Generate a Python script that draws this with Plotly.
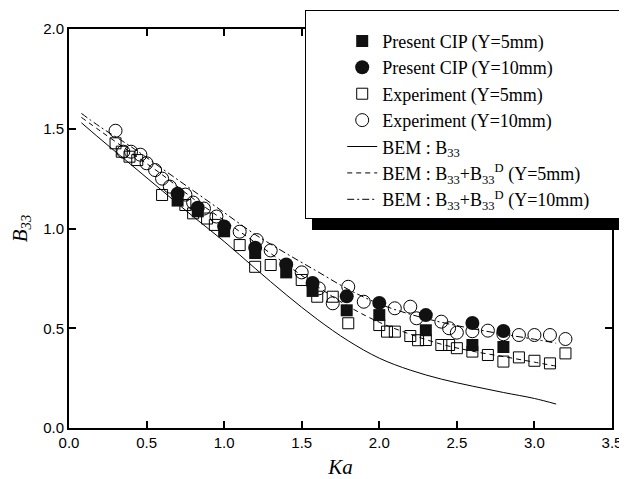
import plotly.graph_objects as go

# ---------------- data ----------------
cip5_x = [0.70, 0.83, 1.00, 1.20, 1.40, 1.57, 1.79, 2.00, 2.30, 2.60, 2.80]
cip5_y = [1.140, 1.086, 0.986, 0.877, 0.780, 0.687, 0.590, 0.566, 0.490, 0.416, 0.406]

cip10_x = [0.70, 0.83, 1.00, 1.20, 1.40, 1.57, 1.79, 2.00, 2.30, 2.60, 2.80]
cip10_y = [1.174, 1.104, 1.010, 0.904, 0.820, 0.727, 0.660, 0.627, 0.566, 0.526, 0.486]

exp5_x = [0.30, 0.34, 0.39, 0.44, 0.60, 0.75, 0.80, 0.89, 0.94, 1.10, 1.20, 1.30,
          1.50, 1.60, 1.70, 1.80, 2.00, 2.05, 2.10, 2.20, 2.25, 2.30, 2.40, 2.45,
          2.50, 2.60, 2.70, 2.80, 2.90, 3.00, 3.10, 3.20]
exp5_y = [1.427, 1.385, 1.360, 1.343, 1.168, 1.118, 1.076, 1.050, 1.018, 0.917, 0.808, 0.817,
          0.742, 0.658, 0.658, 0.525, 0.516, 0.483, 0.483, 0.461, 0.440, 0.441, 0.416, 0.416,
          0.400, 0.383, 0.366, 0.333, 0.354, 0.337, 0.324, 0.374]

exp10_x = [0.30, 0.35, 0.40, 0.46, 0.50, 0.555, 0.60, 0.65, 0.75, 0.80, 0.87, 0.95,
           1.10, 1.21, 1.30, 1.50, 1.61, 1.70, 1.80, 1.90, 2.10, 2.20, 2.24, 2.40,
           2.45, 2.50, 2.60, 2.70, 2.80, 2.90, 3.00, 3.10, 3.20]
exp10_y = [1.490, 1.385, 1.385, 1.370, 1.327, 1.293, 1.250, 1.210, 1.170, 1.130, 1.100, 1.060,
           0.984, 0.942, 0.890, 0.780, 0.700, 0.625, 0.708, 0.633, 0.600, 0.608, 0.550, 0.533,
           0.500, 0.478, 0.485, 0.488, 0.470, 0.466, 0.466, 0.466, 0.446]

bem_x = [0.08, 0.2, 0.4, 0.6, 0.8, 1.0, 1.2, 1.4, 1.6, 1.8, 2.0, 2.2, 2.4, 2.6, 2.8, 3.0, 3.14]
bem_y = [1.530, 1.450, 1.320, 1.190, 1.060, 0.935, 0.800, 0.668, 0.545, 0.437, 0.350, 0.290,
         0.245, 0.210, 0.178, 0.148, 0.120]
bem5_y = [1.557, 1.490, 1.380, 1.270, 1.150, 1.040, 0.930, 0.820, 0.710, 0.610, 0.530, 0.470,
          0.420, 0.385, 0.358, 0.330, 0.310]
bem10_y = [1.577, 1.510, 1.410, 1.300, 1.190, 1.080, 0.970, 0.875, 0.785, 0.695, 0.622, 0.570,
           0.530, 0.498, 0.470, 0.445, 0.425]

x_ticks = [0.0, 0.5, 1.0, 1.5, 2.0, 2.5, 3.0, 3.5]
y_ticks = [0.0, 0.5, 1.0, 1.5, 2.0]

# ---------------- figure ----------------
fig = go.Figure()

fig.add_trace(go.Scatter(x=bem_x, y=bem_y, mode="lines", line=dict(color="black", width=1, shape="spline"),
                         name="BEM : B<sub>33</sub>", legendrank=5))
fig.add_trace(go.Scatter(x=bem_x, y=bem5_y, mode="lines",
                         line=dict(color="black", width=1, dash="5px,4px", shape="spline"),
                         name="BEM : B<sub>33</sub>+B<sub>33</sub><sup>D</sup> (Y=5mm)", legendrank=6))
fig.add_trace(go.Scatter(x=bem_x, y=bem10_y, mode="lines",
                         line=dict(color="black", width=1, dash="7px,3px,2px,3px", shape="spline"),
                         name="BEM : B<sub>33</sub>+B<sub>33</sub><sup>D</sup> (Y=10mm)", legendrank=7))

fig.add_trace(go.Scatter(x=exp5_x, y=exp5_y, mode="markers", name="Experiment (Y=5mm)",
                         marker=dict(symbol="square-open", size=11, color="black", line=dict(width=1)),
                         legendrank=3))
fig.add_trace(go.Scatter(x=exp10_x, y=exp10_y, mode="markers", name="Experiment (Y=10mm)",
                         marker=dict(symbol="circle-open", size=13, color="black", line=dict(width=1)),
                         legendrank=4))
fig.add_trace(go.Scatter(x=cip5_x, y=cip5_y, mode="markers", name="Present CIP (Y=5mm)",
                         marker=dict(symbol="square", size=12, color="#111111"), legendrank=1))
fig.add_trace(go.Scatter(x=cip10_x, y=cip10_y, mode="markers", name="Present CIP (Y=10mm)",
                         marker=dict(symbol="circle", size=14, color="#111111"), legendrank=2))

axis_common = dict(showline=True, linecolor="black", linewidth=2, mirror="ticks",
                   ticks="inside", ticklen=7, tickwidth=1.5, tickcolor="black",
                   showgrid=False, zeroline=False,
                   tickfont=dict(family="Liberation Sans, Arial", size=15, color="black"))

fig.update_xaxes(range=[0, 3.5], tickvals=x_ticks, ticktext=[f"{v:.1f}" for v in x_ticks],
                 title=dict(text="<i>Ka</i>", font=dict(family="Liberation Serif, Times New Roman",
                                                        size=21, color="black"), standoff=14),
                 **axis_common)
fig.update_yaxes(range=[0, 2.0], tickvals=y_ticks, ticktext=[f"{v:.1f}" for v in y_ticks],
                 title=dict(text="<i>B</i><sub><i>33</i></sub>",
                            font=dict(family="Liberation Serif, Times New Roman", size=21, color="black"),
                            standoff=10),
                 **axis_common)

# legend shadow
fig.add_shape(type="rect", xref="paper", yref="paper", x0=0.4475, x1=1.0258, y0=0.496, y1=1.035,
              fillcolor="black", line=dict(width=0), layer="above")

fig.update_layout(
    width=619, height=471,
    margin=dict(l=61, r=15, t=21, b=51, autoexpand=False),
    paper_bgcolor="white", plot_bgcolor="white",
    font=dict(family="Liberation Serif, Times New Roman", color="black"),
    legend=dict(x=0.435, y=1.0476, xanchor="left", yanchor="top",
                bgcolor="white", bordercolor="black", borderwidth=1,
                font=dict(family="Liberation Serif, Times New Roman", size=18, color="black"),
                traceorder="normal", indentation=36,
                title=dict(text="&nbsp;" * 138, font=dict(size=9))),
)

fig.write_html("out.html")
